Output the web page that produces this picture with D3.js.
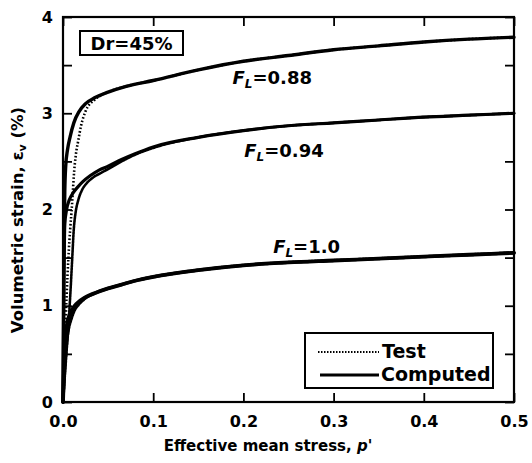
<!DOCTYPE html>
<html>
<head>
<meta charset="utf-8">
<script src="https://cdn.jsdelivr.net/npm/d3@7/dist/d3.min.js"></script>
<style>
  html, body { margin: 0; padding: 0; background: #fff; }
  svg { display: block; }
  text { font-family: "DejaVu Sans", sans-serif; font-weight: bold; fill: #000; }
</style>
</head>
<body>
<svg id="chart" width="532" height="463"></svg>
<script>
// Axis ticks
const xTicks = [0.0, 0.1, 0.2, 0.3, 0.4, 0.5];
const xTickLabels = ["0.0", "0.1", "0.2", "0.3", "0.4", "0.5"];
const yTicks = [0, 0.5, 1, 1.5, 2, 2.5, 3, 3.5, 4];
const yTickLabels = ["0", "", "1", "", "2", "", "3", "", "4"];

// F_L = 0.88 : effective mean stress p' and volumetric strain (%)
const p088Computed = [0, 0.0005, 0.001, 0.002, 0.003, 0.005, 0.008, 0.012, 0.018, 0.025, 0.035, 0.05, 0.07, 0.1, 0.15, 0.2, 0.25, 0.3, 0.35, 0.4, 0.45, 0.5];
const ev088Computed = [0, 0.8, 1.5, 2.2, 2.45, 2.62, 2.76, 2.9, 3.02, 3.1, 3.16, 3.22, 3.28, 3.34, 3.45, 3.54, 3.60, 3.66, 3.70, 3.74, 3.77, 3.79];
const p088Test = [0, 0.002, 0.004, 0.006, 0.008, 0.010, 0.011, 0.012, 0.014, 0.017, 0.020, 0.025, 0.035, 0.05, 0.07, 0.1, 0.15, 0.2, 0.25, 0.3, 0.35, 0.4, 0.45, 0.5];
const ev088Test = [0, 0.6, 1.1, 1.5, 1.8, 2.05, 2.2, 2.35, 2.55, 2.72, 2.87, 3.02, 3.14, 3.22, 3.28, 3.34, 3.45, 3.54, 3.60, 3.66, 3.70, 3.74, 3.77, 3.79];

// F_L = 0.94
const p094Computed = [0, 0.0005, 0.001, 0.002, 0.004, 0.007, 0.011, 0.016, 0.022, 0.03, 0.04, 0.05, 0.065, 0.08, 0.1, 0.15, 0.2, 0.25, 0.3, 0.35, 0.4, 0.45, 0.5];
const ev094Computed = [0, 0.6, 1.2, 1.85, 2.0, 2.1, 2.17, 2.23, 2.29, 2.35, 2.41, 2.45, 2.52, 2.58, 2.65, 2.75, 2.82, 2.87, 2.90, 2.93, 2.96, 2.98, 3.0];
const p094Test = [0, 0.003, 0.006, 0.008, 0.010, 0.012, 0.014, 0.017, 0.021, 0.026, 0.033, 0.04, 0.05, 0.065, 0.08, 0.1, 0.15, 0.2, 0.25, 0.3, 0.35, 0.4, 0.45, 0.5];
const ev094Test = [0, 0.4, 0.8, 1.1, 1.45, 1.8, 1.97, 2.1, 2.2, 2.27, 2.33, 2.37, 2.42, 2.5, 2.57, 2.64, 2.75, 2.82, 2.87, 2.90, 2.93, 2.96, 2.98, 3.0];

// F_L = 1.0
const p100Computed = [0, 0.001, 0.002, 0.004, 0.007, 0.01, 0.015, 0.025, 0.035, 0.05, 0.065, 0.08, 0.1, 0.15, 0.2, 0.25, 0.3, 0.35, 0.4, 0.45, 0.5];
const ev100Computed = [0, 0.3, 0.55, 0.78, 0.9, 0.96, 1.02, 1.09, 1.13, 1.18, 1.22, 1.26, 1.30, 1.37, 1.42, 1.45, 1.47, 1.49, 1.51, 1.53, 1.55];
const p100Test = [0, 0.002, 0.004, 0.006, 0.009, 0.012, 0.017, 0.025, 0.035, 0.05, 0.065, 0.08, 0.1, 0.15, 0.2, 0.25, 0.3, 0.35, 0.4, 0.45, 0.5];
const ev100Test = [0, 0.35, 0.6, 0.75, 0.86, 0.94, 1.01, 1.08, 1.13, 1.18, 1.22, 1.26, 1.30, 1.37, 1.42, 1.45, 1.47, 1.49, 1.51, 1.53, 1.55];

const curveLabels = [
  { sub: "L", value: "=0.88", p: 0.188, ev: 3.3 },
  { sub: "L", value: "=0.94", p: 0.201, ev: 2.55 },
  { sub: "L", value: "=1.0", p: 0.233, ev: 1.55 }
];

const svg = d3.select("#chart");
const plot = { left: 63, right: 514, top: 17, bottom: 402 };

const x = d3.scaleLinear().domain([0, 0.5]).range([plot.left, plot.right]);
const y = d3.scaleLinear().domain([0, 4]).range([plot.bottom, plot.top]);

const zip = (ps, evs) => ps.map((p, i) => [p, evs[i]]);
const line = d3.line().x(d => x(d[0])).y(d => y(d[1])).curve(d3.curveMonotoneX);

// Curves
const curves = svg.append("g").attr("fill", "none").attr("stroke", "#000").attr("stroke-linecap", "round");
curves.append("path").attr("d", line(zip(p100Test, ev100Test))).attr("stroke-width", 3.2).attr("stroke-dasharray", "2,1.2");
curves.append("path").attr("d", line(zip(p100Computed, ev100Computed))).attr("stroke-width", 3.8);
curves.append("path").attr("d", line(zip(p094Test, ev094Test))).attr("stroke-width", 2.6).attr("stroke-dasharray", "2,1");
curves.append("path").attr("d", line(zip(p094Computed, ev094Computed))).attr("stroke-width", 3.2);
curves.append("path").attr("d", line(zip(p088Computed, ev088Computed))).attr("stroke-width", 3.4);
curves.append("path").attr("d", line(zip(p088Test, ev088Test))).attr("stroke-width", 2.6)
  .attr("stroke-dasharray", "1.6,2").attr("stroke-linecap", "butt");

// Frame and inward ticks on all sides
const axes = svg.append("g");
const tickLen = 9;
axes.append("g").attr("transform", `translate(0,${plot.bottom})`)
  .call(d3.axisBottom(x).tickValues(xTicks).tickSizeInner(-tickLen).tickSizeOuter(0).tickPadding(tickLen + 5).tickFormat((d, i) => xTickLabels[i]));
axes.append("g").attr("transform", `translate(0,${plot.top})`)
  .call(d3.axisTop(x).tickValues(xTicks).tickSizeInner(-tickLen).tickSizeOuter(0).tickFormat(""));
axes.append("g").attr("transform", `translate(${plot.left},0)`)
  .call(d3.axisLeft(y).tickValues(yTicks).tickSizeInner(-tickLen).tickSizeOuter(0).tickPadding(tickLen + 1).tickFormat((d, i) => yTickLabels[i]));
axes.append("g").attr("transform", `translate(${plot.right},0)`)
  .call(d3.axisRight(y).tickValues(yTicks).tickSizeInner(-tickLen).tickSizeOuter(0).tickFormat(""));
axes.selectAll(".domain").remove();
axes.selectAll(".tick line").attr("stroke", "#000").attr("stroke-width", 1.8);
axes.selectAll(".tick text").attr("font-size", 16).attr("font-family", "DejaVu Sans").attr("font-weight", "bold");
axes.append("rect")
  .attr("x", plot.left).attr("y", plot.top)
  .attr("width", plot.right - plot.left).attr("height", plot.bottom - plot.top)
  .attr("fill", "none").attr("stroke", "#000").attr("stroke-width", 2.2);

// Axis titles
svg.append("text")
  .attr("x", 268).attr("y", 451).attr("text-anchor", "middle").attr("font-size", 15)
  .call(t => {
    t.append("tspan").text("Effective mean stress, ");
    t.append("tspan").attr("font-style", "italic").text("p'");
  });
svg.append("text")
  .attr("transform", "translate(23,220) rotate(-90)").attr("text-anchor", "middle").attr("font-size", 16.5)
  .call(t => {
    t.append("tspan").text("Volumetric strain, ε");
    t.append("tspan").attr("font-size", 11).attr("dy", 3).text("v");
    t.append("tspan").attr("dy", -3).text(" (%)");
  });

// Curve labels
curveLabels.forEach(l => {
  const t = svg.append("text").attr("x", x(l.p)).attr("y", y(l.ev)).attr("font-size", 18);
  t.append("tspan").attr("font-style", "italic").text("F");
  t.append("tspan").attr("font-style", "italic").attr("font-size", 12).attr("dy", 4).text(l.sub);
  t.append("tspan").attr("dy", -4).text(l.value);
});

// Relative density box
svg.append("rect").attr("x", 80).attr("y", 31).attr("width", 103).attr("height", 24)
  .attr("fill", "#fff").attr("stroke", "#000").attr("stroke-width", 2);
svg.append("text").attr("x", 131.5).attr("y", 50).attr("text-anchor", "middle").attr("font-size", 18).text("Dr=45%");

// Legend
const legend = svg.append("g");
legend.append("rect").attr("x", 305).attr("y", 333).attr("width", 188).attr("height", 55)
  .attr("fill", "#fff").attr("stroke", "#000").attr("stroke-width", 2);
legend.append("line").attr("x1", 318).attr("x2", 379).attr("y1", 352).attr("y2", 352)
  .attr("stroke", "#000").attr("stroke-width", 2.2).attr("stroke-dasharray", "1.5,1.5");
legend.append("line").attr("x1", 320).attr("x2", 379).attr("y1", 375).attr("y2", 375)
  .attr("stroke", "#000").attr("stroke-width", 3);
legend.append("text").attr("x", 382).attr("y", 358).attr("font-size", 19).text("Test");
legend.append("text").attr("x", 381).attr("y", 381).attr("font-size", 19).text("Computed");
</script>
</body>
</html>
